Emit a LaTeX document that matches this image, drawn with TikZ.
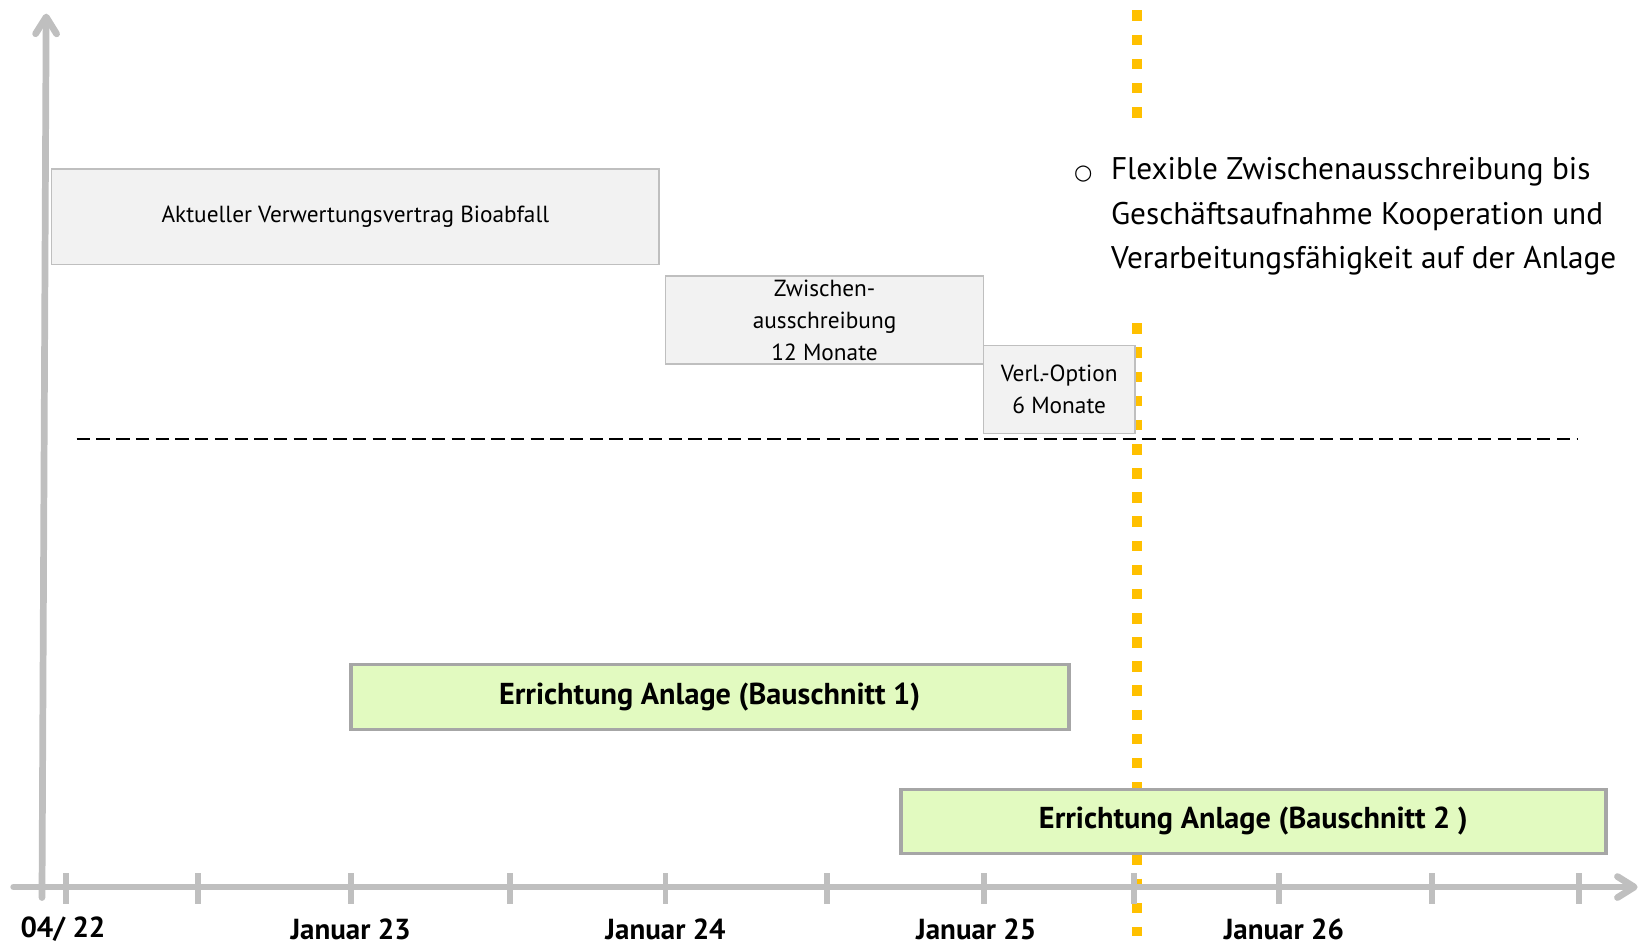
\documentclass[tikz,border=0pt]{standalone}
\usepackage{fontspec}
\setmainfont{PT Sans}
\newfontfamily\symfont{DejaVu Sans}
\usetikzlibrary{arrows.meta}

\definecolor{axisgray}{HTML}{BFBFBF}
\definecolor{boxgray}{HTML}{BFBFBF}
\definecolor{boxfill}{HTML}{F2F2F2}
\definecolor{buildgray}{HTML}{A6A6A6}
\definecolor{buildfill}{HTML}{E2FAC0}
\definecolor{markorange}{HTML}{FFC000}

\begin{document}
\begin{tikzpicture}[
    x=0.5pt, y=-0.5pt,
    axis/.style={draw=axisgray, line width=3.2pt, line cap=round,
        -{Straight Barb[length=8pt, width=10pt, round]}},
    tick/.style={draw=axisgray, line width=2.8pt},
    datelabel/.style={inner sep=0pt, font=\fontsize{13.8}{15}\selectfont\bfseries},
    contract/.style={
        draw=boxgray, line width=0.8pt, fill=boxfill, inner sep=0pt,
        align=center, font=\fontsize{11.1}{15.2}\selectfont
    },
    build/.style={
        draw=buildgray, line width=1.8pt, fill=buildfill, inner sep=0pt,
        font=\fontsize{14.4}{16}\selectfont\bfseries
    },
    marker/.style={draw=markorange, line width=5pt, dash pattern=on 5pt off 6.5pt},
    cutline/.style={draw=black, line width=1.2pt, dash pattern=on 6.4pt off 3pt},
    note/.style={align=left, inner sep=0pt, font=\fontsize{14.9}{21}\selectfont}
]
\useasboundingbox (0,0) rectangle (1568,900);

% Cut-off marker (drawn first, boxes lie on top)
\coordinate (mtopA) at (1083,10);
\coordinate (mtopB) at (1083,112);
\coordinate (mlowA) at (1083,308);
\coordinate (mlowB) at (1083,892);
\draw[marker] (mtopA) -- (mtopB);
\draw[marker] (mlowA) -- (mlowB);

% Contracts
\node[contract, minimum width=289.5pt, minimum height=45.5pt] (vertrag) at (338.5,206.5)
    {Aktueller Verwertungsvertrag Bioabfall};
\node[contract, minimum width=151.5pt, minimum height=42pt] (zwischen) at (785.5,305)
    {Zwischen-\\ausschreibung\\12 Monate};
\node[contract, minimum width=72pt, minimum height=42pt] (option) at (1009,371)
    {Verl.-Option\\6 Monate};

% Separator
\coordinate (cutL) at (73,418);
\coordinate (cutR) at (1502,418);
\draw[cutline] (cutL) -- (cutR);

% Note next to the marker
\node (bullet) at (1032,166) {\symfont\fontsize{10}{10}\selectfont ○};
\node[note, anchor=west] (flex) at (1058,206)
    {Flexible Zwischenausschreibung bis\\Geschäftsaufnahme Kooperation und\\Verarbeitungsfähigkeit auf der Anlage};

% Construction phases
\node[build, minimum width=342pt, minimum height=31pt] (bau1) at (676,664)
    {Errichtung Anlage (Bauschnitt 1)};
\node[build, minimum width=336pt, minimum height=30.5pt] (bau2) at (1194,782.5)
    {Errichtung Anlage (Bauschnitt 2 )};

% Axes
\coordinate (ybot) at (40,855);
\coordinate (ytop) at (44,13);
\coordinate (xleft) at (13,845);
\coordinate (xright) at (1560,845);
\draw[axis] (ybot) -- (ytop);
\draw[axis] (xleft) -- (xright);
\foreach \t in {63,189,334,486,634,788,937,1080,1218,1364,1504}
    \draw[tick] (\t,832) -- (\t,861);

% Dates
\node[datelabel] (d22) at (60,885) {04/ 22};
\node[datelabel] (d23) at (334,885) {Januar 23};
\node[datelabel] (d24) at (634,885) {Januar 24};
\node[datelabel] (d25) at (930,885) {Januar 25};
\node[datelabel] (d26) at (1223,885) {Januar 26};

\end{tikzpicture}
\end{document}
